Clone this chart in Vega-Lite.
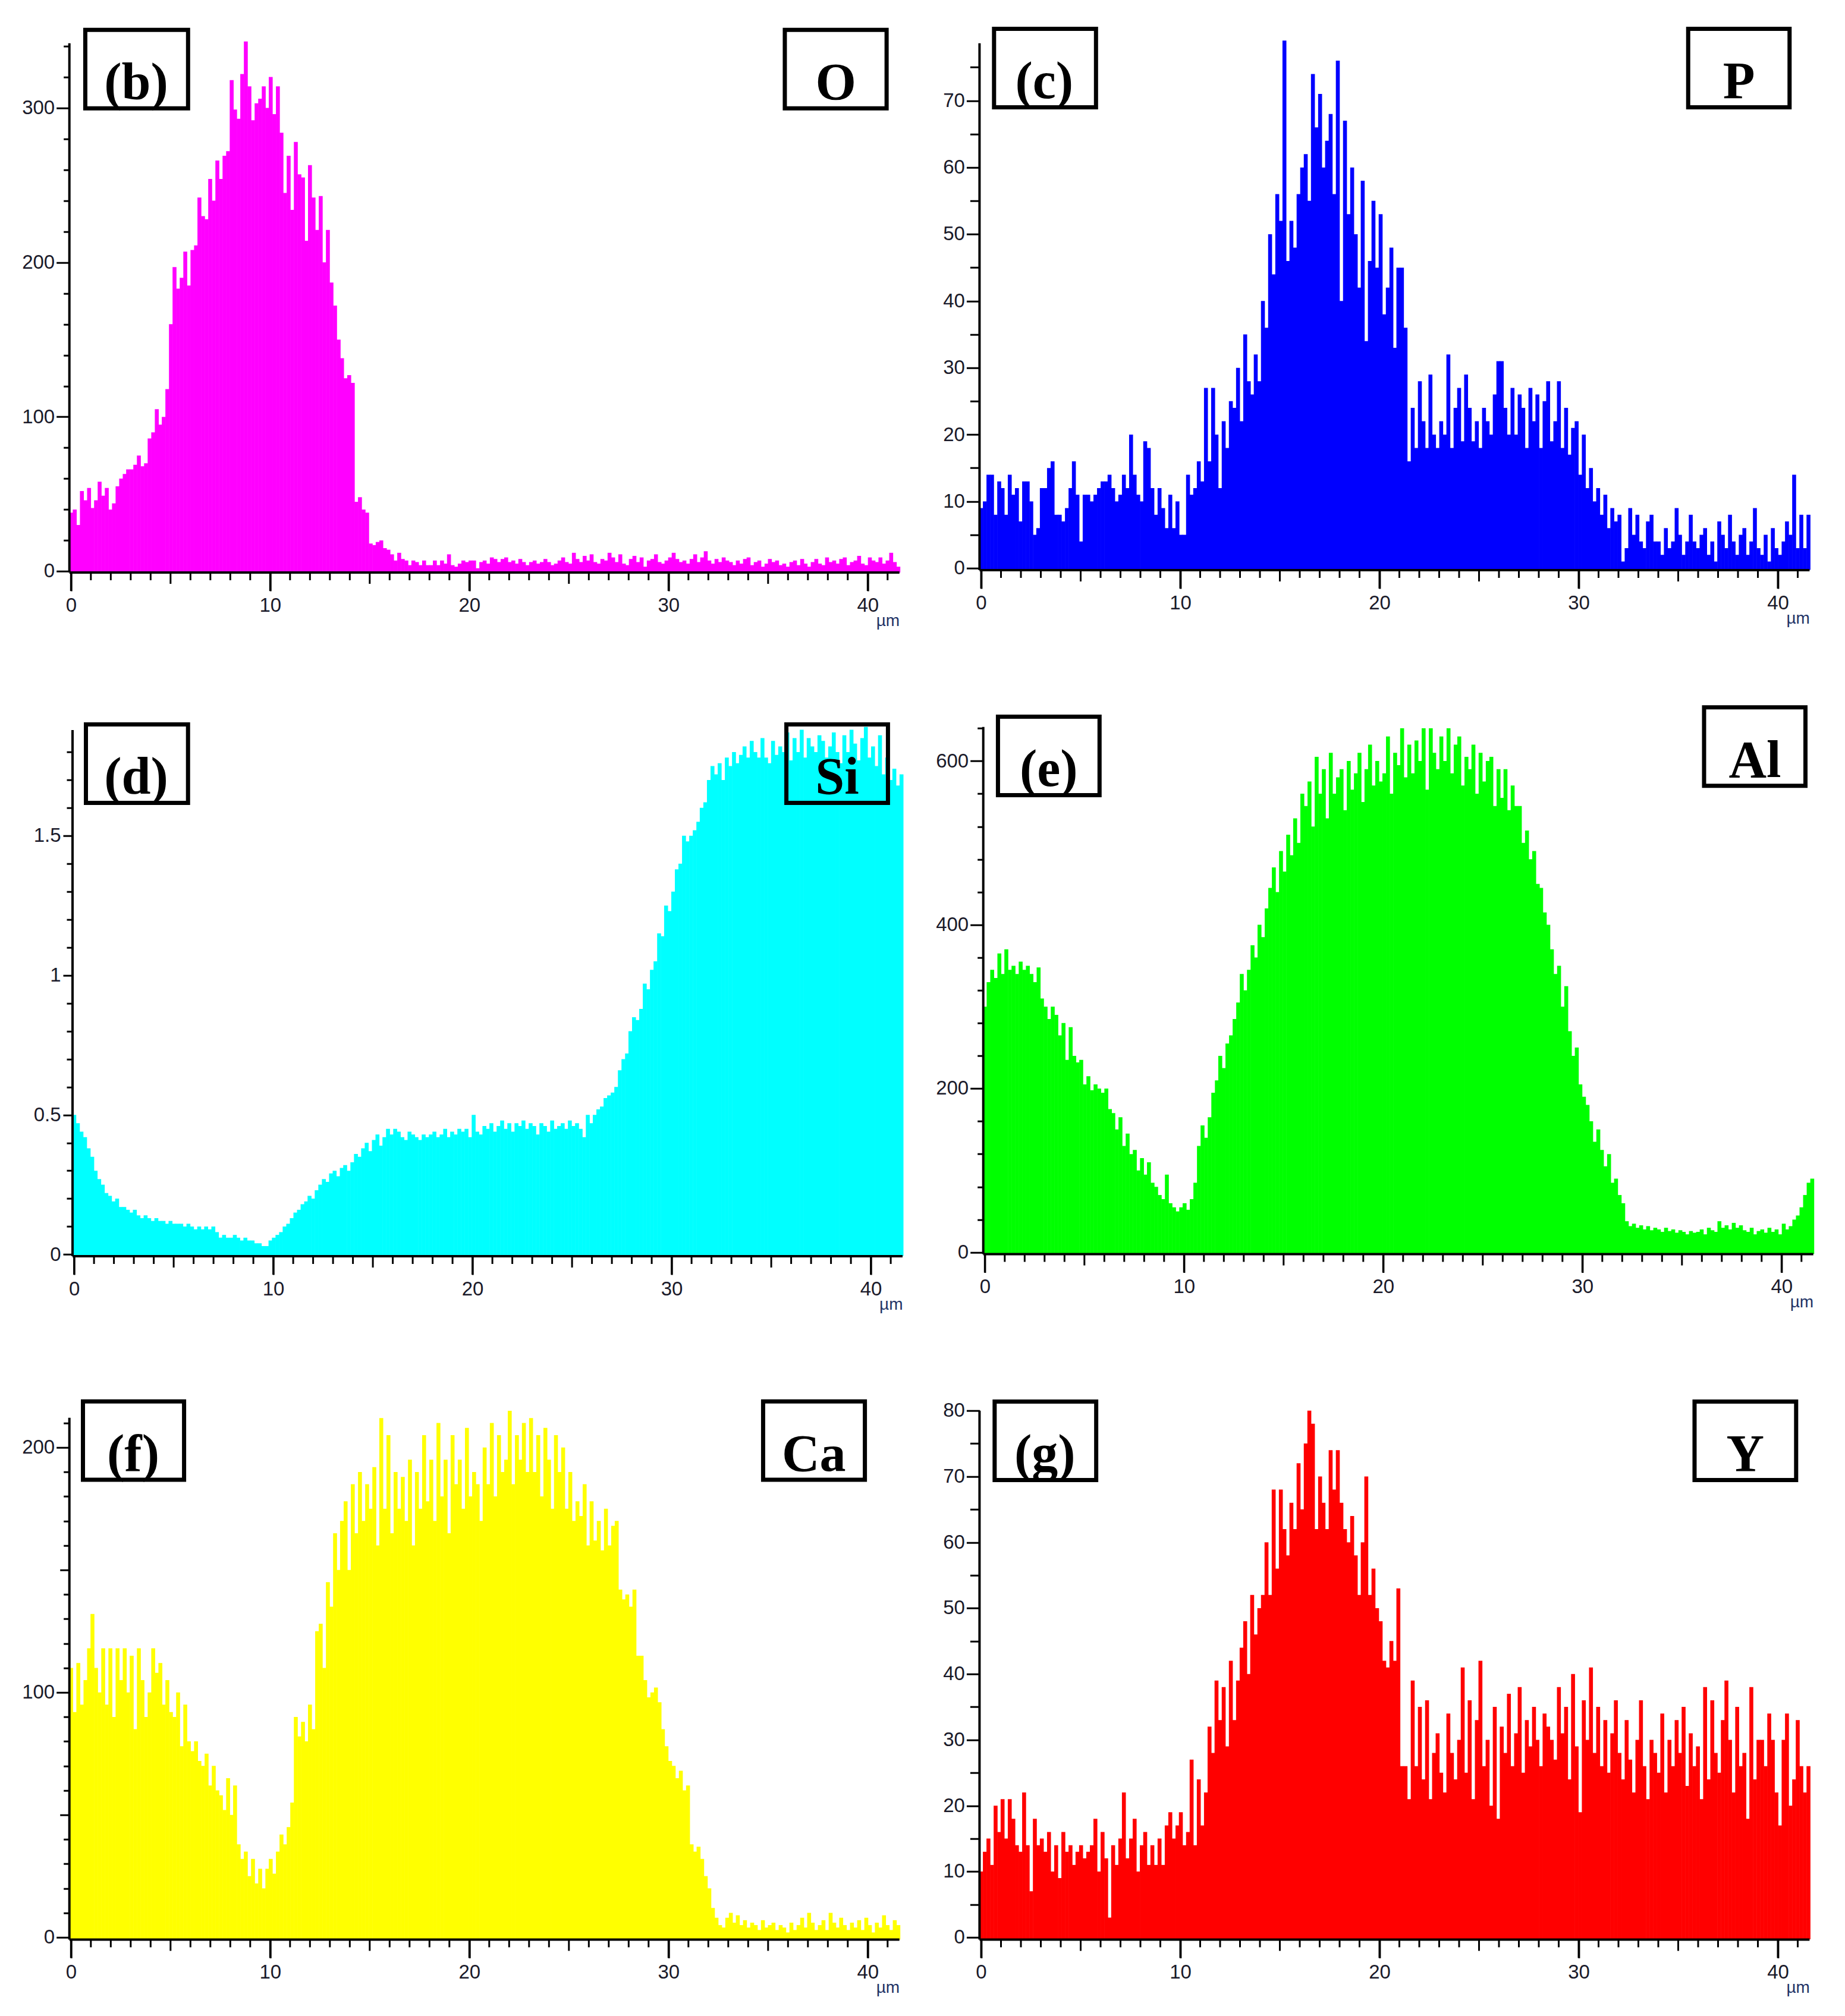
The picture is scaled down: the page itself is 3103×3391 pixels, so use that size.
{"$schema":"https://vega.github.io/schema/vega-lite/v6.json","autosize":{"type":"none"},"background":"white","padding":{"left":116.7,"top":72.7,"right":2986.3,"bottom":3318.3},
"config":{"view":{"stroke":null},"axis":{"grid":false,"domain":false,"ticks":true,"labelFont":"Liberation Sans","labelFontSize":33,"labelColor":"#1a1a2a","tickColor":"#000","tickWidth":3,"labelOverlap":false,"labelFlush":false,"labelAngle":0,"titleFont":"Liberation Sans","titleFontSize":28,"titleFontWeight":"normal","titleColor":"#223366"}},
"datasets":{"xm":[{"v":1},{"v":2},{"v":3},{"v":4},{"v":6},{"v":7},{"v":8},{"v":9},{"v":11},{"v":12},{"v":13},{"v":14},{"v":16},{"v":17},{"v":18},{"v":19},{"v":21},{"v":22},{"v":23},{"v":24},{"v":26},{"v":27},{"v":28},{"v":29},{"v":31},{"v":32},{"v":33},{"v":34},{"v":36},{"v":37},{"v":38},{"v":39},{"v":41}],"x5":[{"v":5},{"v":15},{"v":25},{"v":35}],"x10":[{"v":0},{"v":10},{"v":20},{"v":30},{"v":40}],
"bins":[
{"x":0.01,"O":38,"P":9,"Si":0.5,"Al":300,"Ca":110,"Y":10},
{"x":0.19,"O":40,"P":10,"Si":0.47,"Al":330,"Ca":92,"Y":13},
{"x":0.37,"O":30,"P":14,"Si":0.44,"Al":345,"Ca":112,"Y":15},
{"x":0.55,"O":52,"P":14,"Si":0.42,"Al":335,"Ca":95,"Y":11},
{"x":0.73,"O":46,"P":8,"Si":0.38,"Al":365,"Ca":105,"Y":20},
{"x":0.91,"O":54,"P":13,"Si":0.35,"Al":340,"Ca":118,"Y":16},
{"x":1.08,"O":41,"P":12,"Si":0.3,"Al":370,"Ca":132,"Y":21},
{"x":1.26,"O":46,"P":8,"Si":0.27,"Al":345,"Ca":110,"Y":15},
{"x":1.44,"O":58,"P":14,"Si":0.25,"Al":350,"Ca":100,"Y":21},
{"x":1.62,"O":49,"P":11,"Si":0.22,"Al":340,"Ca":118,"Y":18},
{"x":1.8,"O":54,"P":12,"Si":0.21,"Al":355,"Ca":95,"Y":14},
{"x":1.98,"O":40,"P":7,"Si":0.19,"Al":345,"Ca":118,"Y":13},
{"x":2.16,"O":44,"P":13,"Si":0.2,"Al":350,"Ca":90,"Y":22},
{"x":2.34,"O":55,"P":13,"Si":0.17,"Al":340,"Ca":118,"Y":14},
{"x":2.52,"O":60,"P":10,"Si":0.17,"Al":330,"Ca":105,"Y":7},
{"x":2.7,"O":63,"P":5,"Si":0.16,"Al":348,"Ca":118,"Y":18},
{"x":2.87,"O":66,"P":6,"Si":0.15,"Al":310,"Ca":100,"Y":14},
{"x":3.05,"O":66,"P":12,"Si":0.16,"Al":300,"Ca":115,"Y":15},
{"x":3.23,"O":69,"P":12,"Si":0.14,"Al":285,"Ca":85,"Y":13},
{"x":3.41,"O":75,"P":15,"Si":0.13,"Al":300,"Ca":118,"Y":16},
{"x":3.59,"O":68,"P":16,"Si":0.14,"Al":290,"Ca":105,"Y":10},
{"x":3.77,"O":70,"P":8,"Si":0.13,"Al":265,"Ca":90,"Y":14},
{"x":3.95,"O":86,"P":8,"Si":0.12,"Al":280,"Ca":100,"Y":9},
{"x":4.13,"O":90,"P":7,"Si":0.13,"Al":235,"Ca":118,"Y":16},
{"x":4.31,"O":105,"P":9,"Si":0.12,"Al":275,"Ca":108,"Y":13},
{"x":4.49,"O":95,"P":12,"Si":0.12,"Al":240,"Ca":112,"Y":14},
{"x":4.66,"O":100,"P":16,"Si":0.11,"Al":232,"Ca":95,"Y":11},
{"x":4.84,"O":118,"P":11,"Si":0.12,"Al":235,"Ca":105,"Y":13},
{"x":5.02,"O":160,"P":4,"Si":0.11,"Al":205,"Ca":92,"Y":14},
{"x":5.2,"O":197,"P":11,"Si":0.11,"Al":215,"Ca":90,"Y":12},
{"x":5.38,"O":183,"P":11,"Si":0.11,"Al":198,"Ca":100,"Y":13},
{"x":5.56,"O":190,"P":10,"Si":0.1,"Al":205,"Ca":78,"Y":14},
{"x":5.74,"O":207,"P":11,"Si":0.11,"Al":200,"Ca":95,"Y":18},
{"x":5.92,"O":185,"P":12,"Si":0.1,"Al":195,"Ca":80,"Y":10},
{"x":6.1,"O":208,"P":13,"Si":0.09,"Al":200,"Ca":76,"Y":16},
{"x":6.28,"O":211,"P":13,"Si":0.1,"Al":175,"Ca":80,"Y":12},
{"x":6.45,"O":242,"P":14,"Si":0.09,"Al":170,"Ca":72,"Y":3},
{"x":6.63,"O":230,"P":12,"Si":0.1,"Al":150,"Ca":70,"Y":14},
{"x":6.81,"O":228,"P":10,"Si":0.09,"Al":165,"Ca":75,"Y":11},
{"x":6.99,"O":254,"P":11,"Si":0.1,"Al":130,"Ca":62,"Y":15},
{"x":7.17,"O":240,"P":14,"Si":0.08,"Al":145,"Ca":70,"Y":22},
{"x":7.35,"O":266,"P":12,"Si":0.06,"Al":120,"Ca":60,"Y":12},
{"x":7.53,"O":254,"P":20,"Si":0.07,"Al":125,"Ca":58,"Y":15},
{"x":7.71,"O":269,"P":14,"Si":0.06,"Al":100,"Ca":52,"Y":18},
{"x":7.89,"O":272,"P":11,"Si":0.06,"Al":115,"Ca":65,"Y":10},
{"x":8.07,"O":318,"P":10,"Si":0.07,"Al":95,"Ca":50,"Y":14},
{"x":8.24,"O":299,"P":19,"Si":0.06,"Al":110,"Ca":62,"Y":16},
{"x":8.42,"O":293,"P":18,"Si":0.05,"Al":85,"Ca":38,"Y":11},
{"x":8.6,"O":322,"P":12,"Si":0.06,"Al":80,"Ca":32,"Y":14},
{"x":8.78,"O":343,"P":8,"Si":0.05,"Al":70,"Ca":35,"Y":11},
{"x":8.96,"O":314,"P":12,"Si":0.05,"Al":65,"Ca":25,"Y":15},
{"x":9.14,"O":292,"P":9,"Si":0.04,"Al":95,"Ca":32,"Y":11},
{"x":9.32,"O":303,"P":6,"Si":0.04,"Al":60,"Ca":22,"Y":17},
{"x":9.5,"O":306,"P":11,"Si":0.03,"Al":55,"Ca":28,"Y":19},
{"x":9.68,"O":314,"P":6,"Si":0.03,"Al":50,"Ca":20,"Y":15},
{"x":9.86,"O":300,"P":10,"Si":0.05,"Al":55,"Ca":28,"Y":17},
{"x":10.03,"O":320,"P":5,"Si":0.06,"Al":60,"Ca":32,"Y":19},
{"x":10.21,"O":296,"P":5,"Si":0.07,"Al":52,"Ca":26,"Y":14},
{"x":10.39,"O":314,"P":14,"Si":0.08,"Al":65,"Ca":35,"Y":16},
{"x":10.57,"O":284,"P":11,"Si":0.1,"Al":85,"Ca":42,"Y":27},
{"x":10.75,"O":245,"P":12,"Si":0.11,"Al":130,"Ca":38,"Y":14},
{"x":10.93,"O":269,"P":16,"Si":0.13,"Al":155,"Ca":45,"Y":24},
{"x":11.11,"O":234,"P":13,"Si":0.15,"Al":140,"Ca":55,"Y":17},
{"x":11.29,"O":278,"P":27,"Si":0.16,"Al":165,"Ca":90,"Y":22},
{"x":11.47,"O":257,"P":16,"Si":0.18,"Al":195,"Ca":82,"Y":32},
{"x":11.65,"O":255,"P":27,"Si":0.19,"Al":210,"Ca":88,"Y":28},
{"x":11.82,"O":214,"P":20,"Si":0.21,"Al":240,"Ca":80,"Y":39},
{"x":12,"O":263,"P":12,"Si":0.2,"Al":225,"Ca":95,"Y":33},
{"x":12.18,"O":242,"P":22,"Si":0.23,"Al":255,"Ca":85,"Y":38},
{"x":12.36,"O":221,"P":18,"Si":0.25,"Al":265,"Ca":125,"Y":29},
{"x":12.54,"O":243,"P":25,"Si":0.27,"Al":285,"Ca":128,"Y":42},
{"x":12.72,"O":200,"P":24,"Si":0.26,"Al":305,"Ca":110,"Y":33},
{"x":12.9,"O":221,"P":30,"Si":0.29,"Al":340,"Ca":145,"Y":39},
{"x":13.08,"O":187,"P":22,"Si":0.3,"Al":320,"Ca":135,"Y":44},
{"x":13.26,"O":172,"P":35,"Si":0.28,"Al":345,"Ca":165,"Y":48},
{"x":13.44,"O":150,"P":28,"Si":0.31,"Al":375,"Ca":150,"Y":40},
{"x":13.61,"O":138,"P":26,"Si":0.32,"Al":360,"Ca":170,"Y":52},
{"x":13.79,"O":125,"P":32,"Si":0.3,"Al":400,"Ca":178,"Y":46},
{"x":13.97,"O":127,"P":28,"Si":0.33,"Al":385,"Ca":150,"Y":50},
{"x":14.15,"O":122,"P":40,"Si":0.36,"Al":420,"Ca":185,"Y":52},
{"x":14.33,"O":45,"P":36,"Si":0.35,"Al":445,"Ca":165,"Y":60},
{"x":14.51,"O":48,"P":50,"Si":0.38,"Al":470,"Ca":190,"Y":52},
{"x":14.69,"O":40,"P":44,"Si":0.4,"Al":440,"Ca":170,"Y":68},
{"x":14.87,"O":38,"P":56,"Si":0.37,"Al":490,"Ca":185,"Y":56},
{"x":15.05,"O":18,"P":52,"Si":0.41,"Al":465,"Ca":175,"Y":68},
{"x":15.23,"O":17,"P":79,"Si":0.43,"Al":510,"Ca":192,"Y":62},
{"x":15.4,"O":19,"P":46,"Si":0.39,"Al":485,"Ca":160,"Y":58},
{"x":15.58,"O":20,"P":52,"Si":0.42,"Al":530,"Ca":212,"Y":66},
{"x":15.76,"O":15,"P":48,"Si":0.45,"Al":500,"Ca":175,"Y":62},
{"x":15.94,"O":14,"P":56,"Si":0.43,"Al":560,"Ca":205,"Y":72},
{"x":16.12,"O":11,"P":60,"Si":0.45,"Al":545,"Ca":165,"Y":65},
{"x":16.3,"O":7,"P":62,"Si":0.44,"Al":575,"Ca":190,"Y":75},
{"x":16.48,"O":12,"P":55,"Si":0.42,"Al":520,"Ca":175,"Y":80},
{"x":16.66,"O":8,"P":74,"Si":0.41,"Al":605,"Ca":188,"Y":78},
{"x":16.84,"O":7,"P":66,"Si":0.44,"Al":560,"Ca":170,"Y":62},
{"x":17.02,"O":4,"P":71,"Si":0.43,"Al":590,"Ca":195,"Y":70},
{"x":17.19,"O":7,"P":60,"Si":0.42,"Al":530,"Ca":160,"Y":66},
{"x":17.37,"O":6,"P":64,"Si":0.41,"Al":610,"Ca":190,"Y":62},
{"x":17.55,"O":4,"P":68,"Si":0.43,"Al":560,"Ca":175,"Y":74},
{"x":17.73,"O":7,"P":56,"Si":0.42,"Al":580,"Ca":205,"Y":68},
{"x":17.91,"O":4,"P":76,"Si":0.43,"Al":590,"Ca":178,"Y":74},
{"x":18.09,"O":4,"P":40,"Si":0.44,"Al":540,"Ca":195,"Y":66},
{"x":18.27,"O":7,"P":67,"Si":0.42,"Al":600,"Ca":170,"Y":62},
{"x":18.45,"O":4,"P":53,"Si":0.43,"Al":565,"Ca":210,"Y":60},
{"x":18.63,"O":7,"P":60,"Si":0.45,"Al":585,"Ca":180,"Y":64},
{"x":18.81,"O":5,"P":50,"Si":0.42,"Al":610,"Ca":195,"Y":58},
{"x":18.98,"O":11,"P":42,"Si":0.44,"Al":550,"Ca":165,"Y":52},
{"x":19.16,"O":4,"P":58,"Si":0.43,"Al":590,"Ca":205,"Y":60},
{"x":19.34,"O":3,"P":34,"Si":0.45,"Al":620,"Ca":185,"Y":70},
{"x":19.52,"O":5,"P":46,"Si":0.44,"Al":570,"Ca":195,"Y":52},
{"x":19.7,"O":7,"P":55,"Si":0.45,"Al":600,"Ca":175,"Y":56},
{"x":19.88,"O":6,"P":45,"Si":0.42,"Al":575,"Ca":208,"Y":50},
{"x":20.06,"O":7,"P":53,"Si":0.5,"Al":585,"Ca":180,"Y":48},
{"x":20.24,"O":7,"P":38,"Si":0.44,"Al":630,"Ca":190,"Y":42},
{"x":20.42,"O":2,"P":42,"Si":0.43,"Al":560,"Ca":185,"Y":41},
{"x":20.6,"O":6,"P":48,"Si":0.46,"Al":610,"Ca":170,"Y":45},
{"x":20.77,"O":7,"P":33,"Si":0.45,"Al":595,"Ca":200,"Y":42},
{"x":20.95,"O":5,"P":45,"Si":0.47,"Al":640,"Ca":185,"Y":53},
{"x":21.13,"O":9,"P":45,"Si":0.44,"Al":580,"Ca":210,"Y":26},
{"x":21.31,"O":8,"P":36,"Si":0.46,"Al":620,"Ca":180,"Y":26},
{"x":21.49,"O":6,"P":16,"Si":0.48,"Al":585,"Ca":205,"Y":21},
{"x":21.67,"O":8,"P":24,"Si":0.45,"Al":625,"Ca":190,"Y":39},
{"x":21.85,"O":9,"P":18,"Si":0.47,"Al":600,"Ca":195,"Y":26},
{"x":22.03,"O":6,"P":28,"Si":0.44,"Al":640,"Ca":215,"Y":35},
{"x":22.21,"O":7,"P":22,"Si":0.47,"Al":565,"Ca":185,"Y":24},
{"x":22.39,"O":5,"P":18,"Si":0.46,"Al":640,"Ca":205,"Y":36},
{"x":22.56,"O":8,"P":29,"Si":0.48,"Al":610,"Ca":195,"Y":21},
{"x":22.74,"O":6,"P":20,"Si":0.45,"Al":590,"Ca":210,"Y":28},
{"x":22.92,"O":4,"P":18,"Si":0.47,"Al":630,"Ca":190,"Y":31},
{"x":23.1,"O":6,"P":22,"Si":0.46,"Al":600,"Ca":212,"Y":25},
{"x":23.28,"O":7,"P":20,"Si":0.43,"Al":640,"Ca":190,"Y":22},
{"x":23.46,"O":5,"P":32,"Si":0.47,"Al":585,"Ca":205,"Y":34},
{"x":23.64,"O":6,"P":18,"Si":0.46,"Al":620,"Ca":180,"Y":28},
{"x":23.82,"O":8,"P":24,"Si":0.44,"Al":630,"Ca":208,"Y":24},
{"x":24,"O":6,"P":27,"Si":0.48,"Al":570,"Ca":195,"Y":30},
{"x":24.18,"O":4,"P":19,"Si":0.45,"Al":605,"Ca":175,"Y":41},
{"x":24.35,"O":5,"P":29,"Si":0.46,"Al":590,"Ca":205,"Y":25},
{"x":24.53,"O":7,"P":24,"Si":0.47,"Al":620,"Ca":190,"Y":36},
{"x":24.71,"O":9,"P":19,"Si":0.45,"Al":560,"Ca":200,"Y":21},
{"x":24.89,"O":6,"P":22,"Si":0.48,"Al":610,"Ca":175,"Y":33},
{"x":25.07,"O":5,"P":18,"Si":0.46,"Al":575,"Ca":190,"Y":42},
{"x":25.25,"O":12,"P":24,"Si":0.47,"Al":600,"Ca":170,"Y":26},
{"x":25.43,"O":8,"P":22,"Si":0.45,"Al":605,"Ca":178,"Y":30},
{"x":25.61,"O":6,"P":20,"Si":0.42,"Al":545,"Ca":172,"Y":20},
{"x":25.79,"O":10,"P":26,"Si":0.5,"Al":590,"Ca":185,"Y":35},
{"x":25.97,"O":7,"P":31,"Si":0.47,"Al":555,"Ca":160,"Y":18},
{"x":26.14,"O":11,"P":31,"Si":0.5,"Al":590,"Ca":178,"Y":32},
{"x":26.32,"O":6,"P":24,"Si":0.52,"Al":540,"Ca":162,"Y":28},
{"x":26.5,"O":5,"P":20,"Si":0.53,"Al":570,"Ca":170,"Y":37},
{"x":26.68,"O":8,"P":27,"Si":0.56,"Al":545,"Ca":158,"Y":26},
{"x":26.86,"O":7,"P":20,"Si":0.57,"Al":545,"Ca":175,"Y":31},
{"x":27.04,"O":12,"P":26,"Si":0.58,"Al":500,"Ca":160,"Y":38},
{"x":27.22,"O":9,"P":24,"Si":0.6,"Al":515,"Ca":168,"Y":25},
{"x":27.4,"O":6,"P":18,"Si":0.66,"Al":480,"Ca":170,"Y":33},
{"x":27.58,"O":11,"P":27,"Si":0.7,"Al":490,"Ca":142,"Y":29},
{"x":27.76,"O":5,"P":22,"Si":0.72,"Al":450,"Ca":138,"Y":35},
{"x":27.93,"O":4,"P":26,"Si":0.8,"Al":445,"Ca":140,"Y":30},
{"x":28.11,"O":8,"P":18,"Si":0.85,"Al":415,"Ca":135,"Y":26},
{"x":28.29,"O":10,"P":25,"Si":0.84,"Al":400,"Ca":142,"Y":34},
{"x":28.47,"O":6,"P":28,"Si":0.88,"Al":370,"Ca":115,"Y":32},
{"x":28.65,"O":9,"P":19,"Si":0.97,"Al":340,"Ca":115,"Y":30},
{"x":28.83,"O":3,"P":22,"Si":0.95,"Al":350,"Ca":105,"Y":27},
{"x":29.01,"O":7,"P":28,"Si":1.02,"Al":300,"Ca":98,"Y":38},
{"x":29.19,"O":8,"P":18,"Si":1.05,"Al":325,"Ca":100,"Y":31},
{"x":29.37,"O":11,"P":24,"Si":1.15,"Al":270,"Ca":102,"Y":35},
{"x":29.55,"O":6,"P":17,"Si":1.14,"Al":240,"Ca":96,"Y":24},
{"x":29.72,"O":5,"P":21,"Si":1.25,"Al":250,"Ca":85,"Y":40},
{"x":29.9,"O":7,"P":22,"Si":1.23,"Al":205,"Ca":78,"Y":29},
{"x":30.08,"O":9,"P":14,"Si":1.3,"Al":190,"Ca":72,"Y":19},
{"x":30.26,"O":12,"P":20,"Si":1.38,"Al":180,"Ca":70,"Y":36},
{"x":30.44,"O":8,"P":12,"Si":1.4,"Al":160,"Ca":65,"Y":30},
{"x":30.62,"O":6,"P":15,"Si":1.5,"Al":135,"Ca":68,"Y":41},
{"x":30.8,"O":7,"P":10,"Si":1.48,"Al":150,"Ca":60,"Y":28},
{"x":30.98,"O":5,"P":12,"Si":1.5,"Al":125,"Ca":62,"Y":35},
{"x":31.16,"O":8,"P":8,"Si":1.52,"Al":105,"Ca":38,"Y":26},
{"x":31.34,"O":11,"P":11,"Si":1.55,"Al":120,"Ca":35,"Y":33},
{"x":31.51,"O":6,"P":6,"Si":1.6,"Al":85,"Ca":37,"Y":25},
{"x":31.69,"O":9,"P":9,"Si":1.62,"Al":90,"Ca":32,"Y":31},
{"x":31.87,"O":13,"P":7,"Si":1.7,"Al":70,"Ca":25,"Y":36},
{"x":32.05,"O":7,"P":8,"Si":1.75,"Al":60,"Ca":20,"Y":28},
{"x":32.23,"O":5,"P":1,"Si":1.72,"Al":38,"Ca":12,"Y":24},
{"x":32.41,"O":8,"P":3,"Si":1.76,"Al":32,"Ca":8,"Y":33},
{"x":32.59,"O":6,"P":9,"Si":1.7,"Al":35,"Ca":5,"Y":27},
{"x":32.77,"O":9,"P":5,"Si":1.78,"Al":30,"Ca":4,"Y":22},
{"x":32.95,"O":7,"P":8,"Si":1.75,"Al":33,"Ca":8,"Y":30},
{"x":33.13,"O":6,"P":4,"Si":1.8,"Al":28,"Ca":10,"Y":36},
{"x":33.3,"O":4,"P":3,"Si":1.76,"Al":32,"Ca":6,"Y":26},
{"x":33.48,"O":7,"P":7,"Si":1.79,"Al":27,"Ca":9,"Y":21},
{"x":33.66,"O":5,"P":8,"Si":1.82,"Al":30,"Ca":5,"Y":30},
{"x":33.84,"O":8,"P":4,"Si":1.78,"Al":28,"Ca":7,"Y":28},
{"x":34.02,"O":9,"P":4,"Si":1.84,"Al":25,"Ca":4,"Y":25},
{"x":34.2,"O":4,"P":2,"Si":1.8,"Al":30,"Ca":6,"Y":34},
{"x":34.38,"O":6,"P":6,"Si":1.78,"Al":26,"Ca":5,"Y":22},
{"x":34.56,"O":7,"P":3,"Si":1.85,"Al":28,"Ca":3,"Y":30},
{"x":34.74,"O":3,"P":4,"Si":1.78,"Al":24,"Ca":7,"Y":26},
{"x":34.92,"O":5,"P":9,"Si":1.76,"Al":27,"Ca":4,"Y":33},
{"x":35.09,"O":8,"P":5,"Si":1.84,"Al":25,"Ca":5,"Y":28},
{"x":35.27,"O":6,"P":2,"Si":1.79,"Al":22,"Ca":6,"Y":35},
{"x":35.45,"O":7,"P":4,"Si":1.82,"Al":26,"Ca":3,"Y":23},
{"x":35.63,"O":4,"P":8,"Si":1.8,"Al":24,"Ca":5,"Y":31},
{"x":35.81,"O":5,"P":4,"Si":1.87,"Al":25,"Ca":4,"Y":26},
{"x":35.99,"O":3,"P":3,"Si":1.77,"Al":28,"Ca":2,"Y":29},
{"x":36.17,"O":6,"P":5,"Si":1.85,"Al":22,"Ca":6,"Y":21},
{"x":36.35,"O":7,"P":6,"Si":1.8,"Al":30,"Ca":3,"Y":38},
{"x":36.53,"O":4,"P":2,"Si":1.88,"Al":27,"Ca":5,"Y":24},
{"x":36.71,"O":8,"P":4,"Si":1.78,"Al":25,"Ca":8,"Y":36},
{"x":36.88,"O":5,"P":1,"Si":1.85,"Al":38,"Ca":4,"Y":28},
{"x":37.06,"O":3,"P":7,"Si":1.82,"Al":30,"Ca":10,"Y":25},
{"x":37.24,"O":6,"P":5,"Si":1.8,"Al":33,"Ca":6,"Y":33},
{"x":37.42,"O":8,"P":3,"Si":1.86,"Al":28,"Ca":3,"Y":39},
{"x":37.6,"O":5,"P":8,"Si":1.84,"Al":36,"Ca":5,"Y":30},
{"x":37.78,"O":4,"P":4,"Si":1.78,"Al":30,"Ca":7,"Y":22},
{"x":37.96,"O":9,"P":2,"Si":1.82,"Al":33,"Ca":3,"Y":35},
{"x":38.14,"O":6,"P":5,"Si":1.87,"Al":27,"Ca":10,"Y":26},
{"x":38.32,"O":7,"P":6,"Si":1.8,"Al":25,"Ca":6,"Y":28},
{"x":38.5,"O":5,"P":2,"Si":1.76,"Al":30,"Ca":4,"Y":18},
{"x":38.67,"O":8,"P":4,"Si":1.86,"Al":22,"Ca":8,"Y":38},
{"x":38.85,"O":9,"P":9,"Si":1.8,"Al":26,"Ca":5,"Y":24},
{"x":39.03,"O":4,"P":3,"Si":1.88,"Al":28,"Ca":3,"Y":30},
{"x":39.21,"O":6,"P":2,"Si":1.83,"Al":24,"Ca":6,"Y":30},
{"x":39.39,"O":7,"P":5,"Si":1.77,"Al":30,"Ca":4,"Y":26},
{"x":39.57,"O":10,"P":1,"Si":1.85,"Al":25,"Ca":7,"Y":34},
{"x":39.75,"O":5,"P":6,"Si":1.89,"Al":28,"Ca":3,"Y":30},
{"x":39.93,"O":4,"P":3,"Si":1.78,"Al":22,"Ca":8,"Y":22},
{"x":40.11,"O":9,"P":2,"Si":1.82,"Al":35,"Ca":5,"Y":17},
{"x":40.29,"O":7,"P":4,"Si":1.75,"Al":28,"Ca":2,"Y":30},
{"x":40.46,"O":6,"P":7,"Si":1.86,"Al":32,"Ca":6,"Y":34},
{"x":40.64,"O":9,"P":5,"Si":1.72,"Al":40,"Ca":4,"Y":20},
{"x":40.82,"O":5,"P":14,"Si":1.78,"Al":45,"Ca":9,"Y":24},
{"x":41,"O":7,"P":3,"Si":1.7,"Al":55,"Ca":5,"Y":33},
{"x":41.18,"O":12,"P":8,"Si":1.74,"Al":70,"Ca":3,"Y":26},
{"x":41.36,"O":6,"P":3,"Si":1.68,"Al":85,"Ca":7,"Y":22},
{"x":41.54,"O":3,"P":8,"Si":1.72,"Al":90,"Ca":5,"Y":26}
]},
"concat":[
{"width":1396,"height":897,"layer":[
{"data":{"name":"bins"},"mark":{"type":"bar","width":6.6,"color":"#ff00ff"},"encoding":{"x":{"field":"x","type":"quantitative","title":"µm","scale":{"domain":[-0.078,41.594],"nice":false,"zero":false,"padding":0},"axis":{"offset":-6.7,"ticks":true,"titleAnchor":"end","titlePadding":-5,"values":[0,10,20,30,40],"labelPadding":8,"tickSize":31}},"y":{"field":"O","type":"quantitative","title":null,"scale":{"domain":[-3.35,341.9],"nice":false,"zero":false},"axis":{"values":[0,10,20,30,40,50,60,70,80,90,100,110,120,130,140,150,160,170,180,190,200,210,220,230,240,250,260,270,280,290,300,310,320,330,340],"labelExpr":"datum.value%100===0?datum.label:''","labelPadding":3,"tickSize":{"condition":[{"test":"datum.value%100===0","value":22},{"test":"datum.value%50===0","value":16}],"value":10}}},"y2":{"datum":-0.8}}},
{"data":{"values":[{}]},"mark":{"type":"rule","strokeWidth":4,"color":"#000"},"encoding":{"x":{"datum":-0.078,"type":"quantitative"},"y":{"datum":-0.77,"type":"quantitative"},"y2":{"datum":341.9}}},
{"data":{"values":[{}]},"mark":{"type":"rule","strokeWidth":4,"color":"#000"},"encoding":{"x":{"datum":-0.078,"type":"quantitative"},"x2":{"datum":41.594},"y":{"datum":-0.77,"type":"quantitative"}}},
{"data":{"name":"xm"},"mark":{"type":"rule","strokeWidth":3,"color":"#000"},"encoding":{"x":{"field":"v","type":"quantitative"},"y":{"datum":-0.77,"type":"quantitative"},"y2":{"datum":-5.77}}},
{"data":{"name":"x5"},"mark":{"type":"rule","strokeWidth":3,"color":"#000"},"encoding":{"x":{"field":"v","type":"quantitative"},"y":{"datum":-0.77,"type":"quantitative"},"y2":{"datum":-8.08}}},
{"data":{"name":"x10"},"mark":{"type":"rule","strokeWidth":3,"color":"#000"},"encoding":{"x":{"field":"v","type":"quantitative"},"y":{"datum":-0.77,"type":"quantitative"},"y2":{"datum":-12.7}}},
{"data":{"values":[{"x":3.275,"y":305.6,"t":"(b)"},{"x":38.4,"y":305.6,"t":"O"}]},"mark":{"type":"text","font":"Liberation Serif","fontWeight":"bold","fontSize":88,"align":"center","baseline":"alphabetic","color":"#000"},"encoding":{"x":{"field":"x","type":"quantitative"},"y":{"field":"y","type":"quantitative"},"text":{"field":"t"}}},
{"data":{"values":[{"x":0.72,"x2":5.88,"y":350.5,"y2":299.7},{"x":35.84,"x2":40.95,"y":350.5,"y2":299.7}]},"mark":{"type":"rect","fill":null,"stroke":"#000","strokeWidth":7},"encoding":{"x":{"field":"x","type":"quantitative"},"x2":{"field":"x2"},"y":{"field":"y","type":"quantitative"},"y2":{"field":"y2"}}}
]},
{"width":1396,"height":897,"layer":[
{"data":{"name":"bins"},"mark":{"type":"bar","width":6.6,"color":"#0000ff"},"encoding":{"x":{"field":"x","type":"quantitative","title":"µm","scale":{"domain":[-0.078,41.594],"nice":false,"zero":false,"padding":0},"axis":{"offset":-10.7,"ticks":true,"titleAnchor":"end","titlePadding":-5,"values":[0,10,20,30,40],"labelPadding":8,"tickSize":31}},"y":{"field":"P","type":"quantitative","title":null,"scale":{"domain":[-1.246,78.6],"nice":false,"zero":false},"axis":{"values":[0,5,10,15,20,25,30,35,40,45,50,55,60,65,70,75],"labelExpr":"datum.value%10===0?datum.label:''","labelPadding":3,"tickSize":{"condition":[{"test":"datum.value%10===0","value":22}],"value":16}}},"y2":{"datum":-0.25}}},
{"data":{"values":[{}]},"mark":{"type":"rule","strokeWidth":4,"color":"#000"},"encoding":{"x":{"datum":-0.078,"type":"quantitative"},"y":{"datum":-0.294,"type":"quantitative"},"y2":{"datum":78.6}}},
{"data":{"values":[{}]},"mark":{"type":"rule","strokeWidth":4,"color":"#000"},"encoding":{"x":{"datum":-0.078,"type":"quantitative"},"x2":{"datum":41.594},"y":{"datum":-0.294,"type":"quantitative"}}},
{"data":{"name":"xm"},"mark":{"type":"rule","strokeWidth":3,"color":"#000"},"encoding":{"x":{"field":"v","type":"quantitative"},"y":{"datum":-0.294,"type":"quantitative"},"y2":{"datum":-1.451}}},
{"data":{"name":"x5"},"mark":{"type":"rule","strokeWidth":3,"color":"#000"},"encoding":{"x":{"field":"v","type":"quantitative"},"y":{"datum":-0.294,"type":"quantitative"},"y2":{"datum":-1.985}}},
{"data":{"name":"x10"},"mark":{"type":"rule","strokeWidth":3,"color":"#000"},"encoding":{"x":{"field":"v","type":"quantitative"},"y":{"datum":-0.294,"type":"quantitative"},"y2":{"datum":-3.053}}},
{"data":{"values":[{"x":3.173,"y":70.39,"t":"(c)"},{"x":38.05,"y":70.39,"t":"P"}]},"mark":{"type":"text","font":"Liberation Serif","fontWeight":"bold","fontSize":88,"align":"center","baseline":"alphabetic","color":"#000"},"encoding":{"x":{"field":"x","type":"quantitative"},"y":{"field":"y","type":"quantitative"},"text":{"field":"t"}}},
{"data":{"values":[{"x":0.651,"x2":5.77,"y":80.75,"y2":69},{"x":35.5,"x2":40.59,"y":80.75,"y2":69}]},"mark":{"type":"rect","fill":null,"stroke":"#000","strokeWidth":7},"encoding":{"x":{"field":"x","type":"quantitative"},"x2":{"field":"x2"},"y":{"field":"y","type":"quantitative"},"y2":{"field":"y2"}}}
]},
{"width":1401.3,"height":895.3,"layer":[
{"data":{"name":"bins"},"mark":{"type":"bar","width":6.6,"color":"#00ffff"},"encoding":{"x":{"field":"x","type":"quantitative","title":"µm","scale":{"domain":[-0.236,41.594],"nice":false,"zero":false,"padding":0},"axis":{"offset":-5,"ticks":true,"titleAnchor":"end","titlePadding":-5,"values":[0,10,20,30,40],"labelPadding":8,"tickSize":31}},"y":{"field":"Si","type":"quantitative","title":null,"scale":{"domain":[-0.017,1.89],"nice":false,"zero":false},"axis":{"offset":-5.3,"values":[0,0.1,0.2,0.3,0.4,0.5,0.6,0.7,0.8,0.9,1,1.1,1.2,1.3,1.4,1.5,1.6,1.7,1.8],"labelExpr":"datum.value==0?'0':datum.value==0.5?'0.5':datum.value==1?'1':datum.value==1.5?'1.5':''","labelPadding":4,"tickSize":{"condition":[{"test":"datum.value==0||datum.value==0.5||datum.value==1||datum.value==1.5","value":16}],"value":10}}},"y2":{"datum":-0.006}}},
{"data":{"values":[{}]},"mark":{"type":"rule","strokeWidth":4,"color":"#000"},"encoding":{"x":{"datum":-0.078,"type":"quantitative"},"y":{"datum":-0.0064,"type":"quantitative"},"y2":{"datum":1.8786}}},
{"data":{"values":[{}]},"mark":{"type":"rule","strokeWidth":4,"color":"#000"},"encoding":{"x":{"datum":-0.078,"type":"quantitative"},"x2":{"datum":41.594},"y":{"datum":-0.0064,"type":"quantitative"}}},
{"data":{"name":"xm"},"mark":{"type":"rule","strokeWidth":3,"color":"#000"},"encoding":{"x":{"field":"v","type":"quantitative"},"y":{"datum":-0.0064,"type":"quantitative"},"y2":{"datum":-0.0341}}},
{"data":{"name":"x5"},"mark":{"type":"rule","strokeWidth":3,"color":"#000"},"encoding":{"x":{"field":"v","type":"quantitative"},"y":{"datum":-0.0064,"type":"quantitative"},"y2":{"datum":-0.0469}}},
{"data":{"name":"x10"},"mark":{"type":"rule","strokeWidth":3,"color":"#000"},"encoding":{"x":{"field":"v","type":"quantitative"},"y":{"datum":-0.0064,"type":"quantitative"},"y2":{"datum":-0.0724}}},
{"data":{"values":[{"x":3.116,"y":1.6507,"t":"(d)"},{"x":38.31,"y":1.6507,"t":"Si"}]},"mark":{"type":"text","font":"Liberation Serif","fontWeight":"bold","fontSize":88,"align":"center","baseline":"alphabetic","color":"#000"},"encoding":{"x":{"field":"x","type":"quantitative"},"y":{"field":"y","type":"quantitative"},"text":{"field":"t"}}},
{"data":{"values":[{"x":0.594,"x2":5.72,"y":1.8988,"y2":1.6177},{"x":35.76,"x2":40.86,"y":1.8988,"y2":1.6177}]},"mark":{"type":"rect","fill":null,"stroke":"#000","strokeWidth":7},"encoding":{"x":{"field":"x","type":"quantitative"},"x2":{"field":"x2"},"y":{"field":"y","type":"quantitative"},"y2":{"field":"y2"}}}
]},
{"width":1402.3,"height":886.8,"layer":[
{"data":{"name":"bins"},"mark":{"type":"bar","width":6.6,"color":"#00ff00"},"encoding":{"x":{"field":"x","type":"quantitative","title":"µm","scale":{"domain":[-0.266,41.594],"nice":false,"zero":false,"padding":0},"axis":{"offset":0,"ticks":true,"titleAnchor":"end","titlePadding":-5,"values":[0,10,20,30,40],"labelPadding":8,"tickSize":31}},"y":{"field":"Al","type":"quantitative","title":null,"scale":{"domain":[-2.18,641.6],"nice":false,"zero":false},"axis":{"offset":-6.3,"values":[0,10,20,30,40,50,60,70,80,90,100,110,120,130,140,150,160,170,180,190,200,210,220,230,240,250,260,270,280,290,300,310,320,330,340,350,360,370,380,390,400,410,420,430,440,450,460,470,480,490,500,510,520,530,540,550,560,570,580,590,600,610,620,630,640],"labelExpr":"datum.value%100===0?datum.label:''","labelPadding":3,"tickSize":{"condition":[{"test":"datum.value%100===0","value":22},{"test":"datum.value%50===0","value":16}],"value":10}}},"y2":{"datum":-2}}},
{"data":{"values":[{}]},"mark":{"type":"rule","strokeWidth":4,"color":"#000"},"encoding":{"x":{"datum":-0.078,"type":"quantitative"},"y":{"datum":-2.18,"type":"quantitative"},"y2":{"datum":641.6}}},
{"data":{"values":[{}]},"mark":{"type":"rule","strokeWidth":4,"color":"#000"},"encoding":{"x":{"datum":-0.078,"type":"quantitative"},"x2":{"datum":41.594},"y":{"datum":-2.18,"type":"quantitative"}}},
{"data":{"name":"xm"},"mark":{"type":"rule","strokeWidth":3,"color":"#000"},"encoding":{"x":{"field":"v","type":"quantitative"},"y":{"datum":-2.18,"type":"quantitative"},"y2":{"datum":-11.62}}},
{"data":{"name":"x5"},"mark":{"type":"rule","strokeWidth":3,"color":"#000"},"encoding":{"x":{"field":"v","type":"quantitative"},"y":{"datum":-2.18,"type":"quantitative"},"y2":{"datum":-15.97}}},
{"data":{"name":"x10"},"mark":{"type":"rule","strokeWidth":3,"color":"#000"},"encoding":{"x":{"field":"v","type":"quantitative"},"y":{"datum":-2.18,"type":"quantitative"},"y2":{"datum":-24.68}}},
{"data":{"values":[{"x":3.206,"y":569.6,"t":"(e)"},{"x":38.66,"y":580.6,"t":"Al"}]},"mark":{"type":"text","font":"Liberation Serif","fontWeight":"bold","fontSize":88,"align":"center","baseline":"alphabetic","color":"#000"},"encoding":{"x":{"field":"x","type":"quantitative"},"y":{"field":"y","type":"quantitative"},"text":{"field":"t"}}},
{"data":{"values":[{"x":0.66,"x2":5.76,"y":654.1,"y2":558.3},{"x":36.11,"x2":41.2,"y":665.5,"y2":569.7}]},"mark":{"type":"rect","fill":null,"stroke":"#000","strokeWidth":7},"encoding":{"x":{"field":"x","type":"quantitative"},"x2":{"field":"x2"},"y":{"field":"y","type":"quantitative"},"y2":{"field":"y2"}}}
]},
{"width":1396,"height":889.7,"layer":[
{"data":{"name":"bins"},"mark":{"type":"bar","width":6.6,"color":"#ffff00"},"encoding":{"x":{"field":"x","type":"quantitative","title":"µm","scale":{"domain":[-0.078,41.594],"nice":false,"zero":false,"padding":0},"axis":{"offset":0,"ticks":true,"titleAnchor":"end","titlePadding":-5,"values":[0,10,20,30,40],"labelPadding":8,"tickSize":31}},"y":{"field":"Ca","type":"quantitative","title":null,"scale":{"domain":[-0.9,215.05],"nice":false,"zero":false},"axis":{"values":[0,10,20,30,40,50,60,70,80,90,100,110,120,130,140,150,160,170,180,190,200,210],"labelExpr":"datum.value%100===0?datum.label:''","labelPadding":3,"tickSize":{"condition":[{"test":"datum.value%100===0","value":22},{"test":"datum.value%50===0","value":16}],"value":10}}},"y2":{"datum":-0.9}}},
{"data":{"values":[{}]},"mark":{"type":"rule","strokeWidth":4,"color":"#000"},"encoding":{"x":{"datum":-0.078,"type":"quantitative"},"y":{"datum":-0.9,"type":"quantitative"},"y2":{"datum":212.1}}},
{"data":{"values":[{}]},"mark":{"type":"rule","strokeWidth":4,"color":"#000"},"encoding":{"x":{"datum":-0.078,"type":"quantitative"},"x2":{"datum":41.594},"y":{"datum":-0.9,"type":"quantitative"}}},
{"data":{"name":"xm"},"mark":{"type":"rule","strokeWidth":3,"color":"#000"},"encoding":{"x":{"field":"v","type":"quantitative"},"y":{"datum":-0.9,"type":"quantitative"},"y2":{"datum":-4.06}}},
{"data":{"name":"x5"},"mark":{"type":"rule","strokeWidth":3,"color":"#000"},"encoding":{"x":{"field":"v","type":"quantitative"},"y":{"datum":-0.9,"type":"quantitative"},"y2":{"datum":-5.51}}},
{"data":{"name":"x10"},"mark":{"type":"rule","strokeWidth":3,"color":"#000"},"encoding":{"x":{"field":"v","type":"quantitative"},"y":{"datum":-0.9,"type":"quantitative"},"y2":{"datum":-8.42}}},
{"data":{"values":[{"x":3.125,"y":190.5,"t":"(f)"},{"x":37.3,"y":190.5,"t":"Ca"}]},"mark":{"type":"text","font":"Liberation Serif","fontWeight":"bold","fontSize":88,"align":"center","baseline":"alphabetic","color":"#000"},"encoding":{"x":{"field":"x","type":"quantitative"},"y":{"field":"y","type":"quantitative"},"text":{"field":"t"}}},
{"data":{"values":[{"x":0.603,"x2":5.68,"y":218.8,"y2":186.8},{"x":34.75,"x2":39.86,"y":218.8,"y2":186.8}]},"mark":{"type":"rect","fill":null,"stroke":"#000","strokeWidth":7},"encoding":{"x":{"field":"x","type":"quantitative"},"x2":{"field":"x2"},"y":{"field":"y","type":"quantitative"},"y2":{"field":"y2"}}}
]},
{"width":1396,"height":889.7,"layer":[
{"data":{"name":"bins"},"mark":{"type":"bar","width":6.6,"color":"#ff0000"},"encoding":{"x":{"field":"x","type":"quantitative","title":"µm","scale":{"domain":[-0.078,41.594],"nice":false,"zero":false,"padding":0},"axis":{"offset":0,"ticks":true,"titleAnchor":"end","titlePadding":-5,"values":[0,10,20,30,40],"labelPadding":8,"tickSize":31}},"y":{"field":"Y","type":"quantitative","title":null,"scale":{"domain":[-0.334,80],"nice":false,"zero":false},"axis":{"values":[0,5,10,15,20,25,30,35,40,45,50,55,60,65,70,75,80],"labelExpr":"datum.value%10===0?datum.label:''","labelPadding":3,"tickSize":{"condition":[{"test":"datum.value%10===0","value":22}],"value":16}}},"y2":{"datum":-0.3}}},
{"data":{"values":[{}]},"mark":{"type":"rule","strokeWidth":4,"color":"#000"},"encoding":{"x":{"datum":-0.078,"type":"quantitative"},"y":{"datum":-0.334,"type":"quantitative"},"y2":{"datum":80}}},
{"data":{"values":[{}]},"mark":{"type":"rule","strokeWidth":4,"color":"#000"},"encoding":{"x":{"datum":-0.078,"type":"quantitative"},"x2":{"datum":41.594},"y":{"datum":-0.334,"type":"quantitative"}}},
{"data":{"name":"xm"},"mark":{"type":"rule","strokeWidth":3,"color":"#000"},"encoding":{"x":{"field":"v","type":"quantitative"},"y":{"datum":-0.334,"type":"quantitative"},"y2":{"datum":-1.508}}},
{"data":{"name":"x5"},"mark":{"type":"rule","strokeWidth":3,"color":"#000"},"encoding":{"x":{"field":"v","type":"quantitative"},"y":{"datum":-0.334,"type":"quantitative"},"y2":{"datum":-2.05}}},
{"data":{"name":"x10"},"mark":{"type":"rule","strokeWidth":3,"color":"#000"},"encoding":{"x":{"field":"v","type":"quantitative"},"y":{"datum":-0.334,"type":"quantitative"},"y2":{"datum":-3.13}}},
{"data":{"values":[{"x":3.203,"y":70.85,"t":"(g)"},{"x":38.37,"y":70.85,"t":"Y"}]},"mark":{"type":"text","font":"Liberation Serif","fontWeight":"bold","fontSize":88,"align":"center","baseline":"alphabetic","color":"#000"},"encoding":{"x":{"field":"x","type":"quantitative"},"y":{"field":"y","type":"quantitative"},"text":{"field":"t"}}},
{"data":{"values":[{"x":0.681,"x2":5.78,"y":81.37,"y2":69.45},{"x":35.82,"x2":40.92,"y":81.37,"y2":69.45}]},"mark":{"type":"rect","fill":null,"stroke":"#000","strokeWidth":7},"encoding":{"x":{"field":"x","type":"quantitative"},"x2":{"field":"x2"},"y":{"field":"y","type":"quantitative"},"y2":{"field":"y2"}}}
]}
],
"columns":2,"bounds":"flush","align":"all","spacing":{"row":253,"column":127.7}}
